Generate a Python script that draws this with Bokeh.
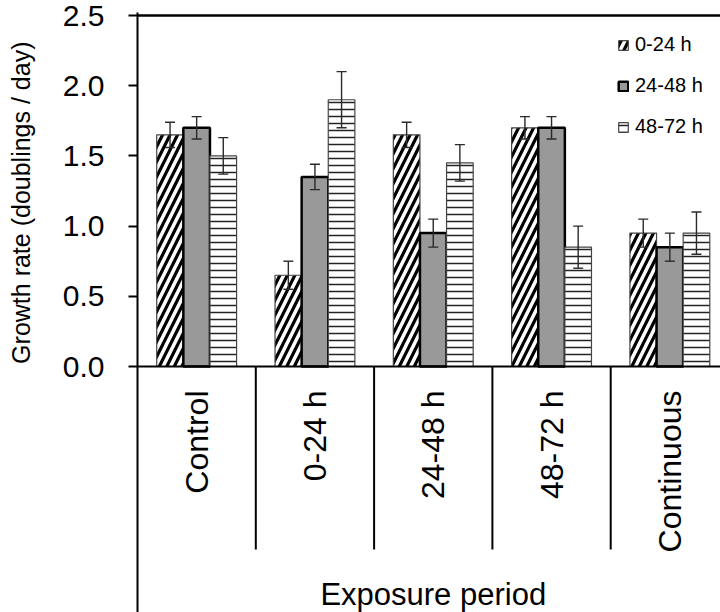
import numpy as np
from bokeh.plotting import figure
from bokeh.layouts import row
from bokeh.models import (Range1d, FixedTicker, Span, ColumnDataSource, Whisker,
                          TeeHead, Legend, LegendItem, CustomJSTickFormatter)
from bokeh.core.properties import value
from bokeh.embed import file_html
from bokeh.resources import INLINE

# ---------------- data ----------------
categories = ["Control", "0-24 h", "24-48 h", "48-72 h", "Continuous"]
series = ["0-24 h", "24-48 h", "48-72 h"]
rate_0_24 = [1.65, 0.65, 1.65, 1.70, 0.95]
rate_24_48 = [1.70, 1.35, 0.95, 1.70, 0.85]
rate_48_72 = [1.50, 1.90, 1.45, 0.85, 0.95]
err_0_24 = [0.09, 0.10, 0.09, 0.08, 0.10]
err_24_48 = [0.08, 0.09, 0.10, 0.08, 0.10]
err_48_72 = [0.13, 0.20, 0.13, 0.15, 0.15]
y_ticks = [0.0, 0.5, 1.0, 1.5, 2.0, 2.5]
x_title = "Exposure period"
y_title = "Growth rate (doublings / day)"

# ---------------- layout constants ----------------
W, H = 720, 612
TITLE_W = 45                 # strip on the far left holding the y title
LEFT, TOP, BOTTOM = 137, 12, 612
Y0_PX = 366.0
PX_PER_Y = 140.4
PX_PER_CAT = 118.3
FONT = "Liberation Sans"

def ydat(px):
    return (Y0_PX - px) / PX_PER_Y

# ---- y title strip ----
t = figure(width=TITLE_W, height=H, output_backend="svg", toolbar_location=None,
           x_range=Range1d(0, TITLE_W), y_range=Range1d(H, 0),
           min_border_left=0, min_border_right=0, min_border_top=0, min_border_bottom=0)
t.axis.visible = False
t.grid.visible = False
t.outline_line_color = None
t.background_fill_color = "white"
t.border_fill_color = "white"
t.text(x=[20], y=[194], text=[y_title], angle=np.pi / 2, text_align="center",
       text_baseline="middle", text_font=value(FONT), text_font_size="25px",
       text_color="black")

# ---- main chart ----
x_end = (W - LEFT) / PX_PER_CAT
p = figure(width=W - TITLE_W, height=H, output_backend="svg", toolbar_location=None,
           x_range=Range1d(0, x_end), y_range=Range1d(ydat(BOTTOM), ydat(TOP)),
           min_border_left=LEFT - TITLE_W, min_border_right=0, min_border_top=TOP,
           min_border_bottom=H - BOTTOM)
p.outline_line_color = None
p.xgrid.visible = False
p.ygrid.visible = False
p.xaxis.visible = False
p.background_fill_color = "white"
p.border_fill_color = "white"

yax = p.yaxis[0]
yax.ticker = FixedTicker(ticks=y_ticks)
yax.formatter = CustomJSTickFormatter(code="return tick.toFixed(1);")
yax.major_tick_out = 9
yax.major_tick_in = 0
yax.minor_tick_line_color = None
yax.axis_line_width = 2
yax.axis_line_color = "black"
yax.major_tick_line_width = 2
yax.major_tick_line_color = "black"
yax.major_label_text_font = FONT
yax.major_label_text_font_size = "30px"
yax.major_label_text_color = "black"
yax.major_label_standoff = 24

# frame lines
p.add_layout(Span(location=0, dimension="width", line_color="black", line_width=2))
p.add_layout(Span(location=2.5, dimension="width", line_color="black", line_width=2.5))

n = len(categories)
centers = np.arange(n) + 0.5
bw = 0.225
offsets = [-bw, 0.0, bw]
vals = [rate_0_24, rate_24_48, rate_48_72]
errs = [err_0_24, err_24_48, err_48_72]
styles = [
    dict(fill_color="white", line_color="#444444", line_width=1.2,
         hatch_pattern="right_diagonal_line", hatch_color="black",
         hatch_weight=3.2, hatch_scale=15),
    dict(fill_color="#999999", line_color="black", line_width=2.5),
    dict(fill_color="white", line_color="#444444", line_width=1.2,
         hatch_pattern="horizontal_line", hatch_color="#222222",
         hatch_weight=1.5, hatch_scale=7),
]

renderers = []
for k in range(3):
    xs = centers + offsets[k]
    v = np.array(vals[k])
    e = np.array(errs[k])
    src = ColumnDataSource(dict(x=xs, top=v, upper=v + e, lower=v - e))
    r = p.vbar(x="x", top="top", bottom=0, width=bw, source=src, **styles[k])
    renderers.append(r)
    wh = Whisker(base="x", upper="upper", lower="lower", source=src,
                 line_color="#2a2a2a", line_width=1.4, level="overlay",
                 upper_head=TeeHead(size=10, line_color="#2a2a2a", line_width=1.4),
                 lower_head=TeeHead(size=10, line_color="#2a2a2a", line_width=1.4))
    p.add_layout(wh)

# category separators below the axis
sep_x = np.arange(1, n)
p.segment(x0=sep_x, y0=0, x1=sep_x, y1=ydat(549), line_color="black", line_width=2)

# rotated category labels
cat_src = ColumnDataSource(dict(x=centers, text=categories))
p.text(x="x", y=ydat(390), text="text", source=cat_src, angle=np.pi / 2,
       text_align="right", text_baseline="middle", text_font=value(FONT),
       text_font_size="32px", text_color="black")

# x title
p.text(x=[n / 2], y=[ydat(576)], text=[x_title], text_align="center",
       text_baseline="top", text_font=value(FONT), text_font_size="31px",
       text_color="black")

legend = Legend(items=[LegendItem(label=series[k], renderers=[renderers[k]]) for k in range(3)],
                location=(617 - LEFT, BOTTOM - 138), padding=0, margin=0,
                border_line_color=None, background_fill_alpha=0,
                glyph_width=12, glyph_height=12, label_standoff=6, spacing=18,
                label_height=22, label_text_font=FONT, label_text_font_size="20px",
                label_text_color="black")
p.add_layout(legend)

layout = row(t, p, spacing=0)
open("out.html", "w").write(file_html(layout, INLINE))
